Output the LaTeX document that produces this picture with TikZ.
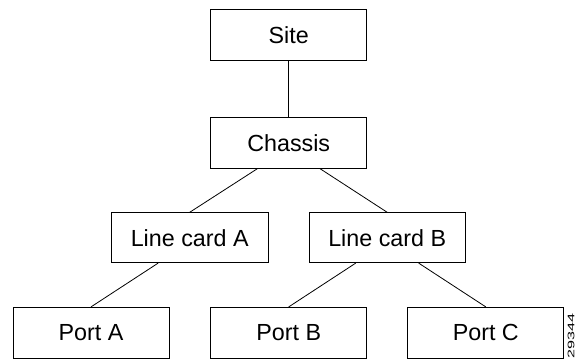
\documentclass[tikz,border=0pt]{standalone}
\usepackage{fontspec}
\setmainfont{Liberation Sans}
\usetikzlibrary{calc}
\begin{document}
\begin{tikzpicture}[x=1pt,y=1pt,
  box/.style={draw=black, line width=0.8pt, minimum width=156pt, minimum height=51pt, inner sep=0pt,
    font=\fontsize{23.3}{28}\selectfont},
  conn/.style={draw=black, line width=0.8pt}]
\useasboundingbox (0,0) rectangle (577,-358);
\clip (0,0) rectangle (577,-358);
\node[box] (site) at (288.7,-35) {Site};
\node[box] (chassis) at (288.7,-142.8) {Chassis};
\node[box, minimum width=157pt, minimum height=50pt] (lca) at (189.7,-237.7) {Line card A};
\node[box, minimum width=156.5pt, minimum height=50pt] (lcb) at (387.2,-237.7) {Line card B};
\node[box] (pa) at (91,-332.8) {Port A};
\node[box] (pb) at (288.7,-332.8) {Port B};
\node[box] (pc) at (485.8,-332.8) {Port C};
\draw[conn] (site.south) -- (chassis.north);
\draw[conn] ($(chassis.south west)!0.3!(chassis.south east)$) -- (lca.north);
\draw[conn] ($(chassis.south west)!0.7!(chassis.south east)$) -- (lcb.north);
\draw[conn] ($(lca.south west)!0.3!(lca.south east)$) -- (pa.north);
\draw[conn] ($(lcb.south west)!0.3!(lcb.south east)$) -- (pb.north);
\draw[conn] ($(lcb.south west)!0.7!(lcb.south east)$) -- (pc.north);
\node[rotate=90, anchor=base west, inner sep=0pt, font=\fontsize{9.5}{11}\selectfont] (fig) at (574.3,-358.5) {\scalebox{1.7}[1]{29344}};
\end{tikzpicture}
\end{document}
